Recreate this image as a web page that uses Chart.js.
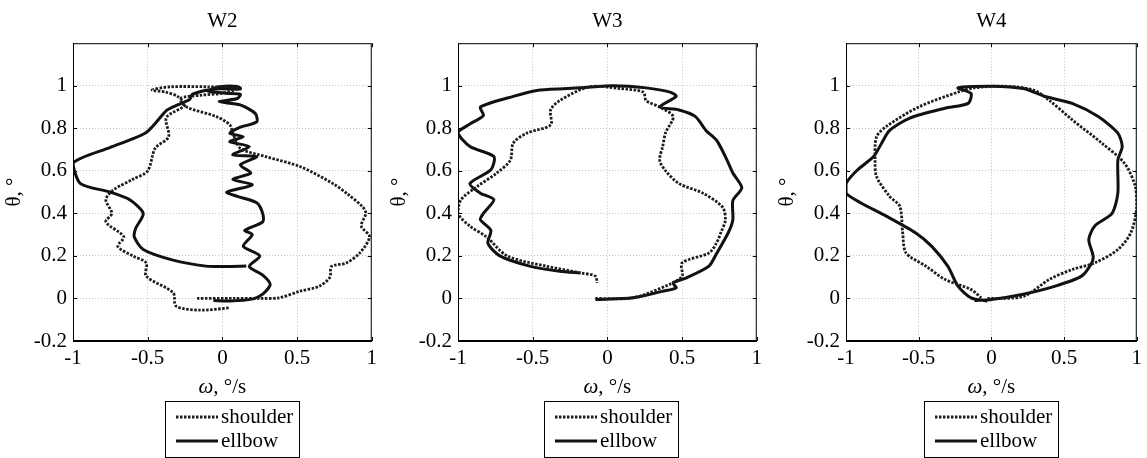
<!DOCTYPE html>
<html>
<head>
<meta charset="utf-8">
<script src="https://cdn.jsdelivr.net/npm/chart.js@4.4.0/dist/chart.umd.min.js"></script>
<style>
  html, body { margin: 0; padding: 0; background: #fff; }
  #wrap { position: relative; width: 1147px; height: 458px; overflow: hidden; }
  .panel { position: absolute; top: 0; height: 458px; }
</style>
</head>
<body>
<div id="wrap">
  <div class="panel" style="left:0px;width:382px"><canvas id="w2" width="382" height="458"></canvas></div>
  <div class="panel" style="left:385px;width:382px"><canvas id="w3" width="382" height="458"></canvas></div>
  <div class="panel" style="left:773px;width:374px"><canvas id="w4" width="374" height="458"></canvas></div>
</div>
<script>
// ---- data (omega, theta), normalised ----
var seriesLabels = ["shoulder", "ellbow"];
var xTicks = [-1, -0.5, 0, 0.5, 1];
var yTicks = [-0.2, 0, 0.2, 0.4, 0.6, 0.8, 1];

var w2Shoulder = [
  [-0.17, 0.0], [0.07, 0.0], [0.25, 0.0], [0.38, 0.003], [0.52, 0.034], [0.65, 0.058],
  [0.72, 0.1], [0.73, 0.15], [0.83, 0.167], [0.92, 0.214], [0.985, 0.29], [0.93, 0.34],
  [0.96, 0.4], [0.94, 0.43], [0.84, 0.49], [0.74, 0.54], [0.52, 0.62], [0.29, 0.667],
  [0.12, 0.706], [0.07, 0.777], [0.05, 0.816], [-0.04, 0.855], [-0.24, 0.9], [-0.28, 0.94],
  [-0.15, 0.955], [0.0, 0.965], [0.12, 0.99], [-0.1, 0.995], [-0.35, 0.995], [-0.47, 0.98],
  [-0.38, 0.97], [-0.3, 0.95], [-0.25, 0.91], [-0.375, 0.85], [-0.36, 0.76], [-0.45, 0.706],
  [-0.5, 0.6], [-0.6, 0.56], [-0.73, 0.51], [-0.78, 0.464], [-0.74, 0.4], [-0.78, 0.36],
  [-0.66, 0.29], [-0.7, 0.245], [-0.6, 0.2], [-0.51, 0.167], [-0.51, 0.105], [-0.33, 0.027],
  [-0.31, -0.036], [-0.15, -0.055], [0.05, -0.044]
];
var w2Elbow = [
  [-0.06, -0.01], [0.05, -0.012], [0.2, -0.003], [0.27, 0.02], [0.32, 0.066], [0.27, 0.11],
  [0.18, 0.15], [0.25, 0.2], [0.14, 0.245], [0.2, 0.3], [0.15, 0.32], [0.27, 0.36],
  [0.27, 0.4], [0.23, 0.45], [0.1, 0.48], [0.03, 0.5], [0.2, 0.534], [0.07, 0.56],
  [0.19, 0.59], [0.12, 0.628], [0.23, 0.667], [0.07, 0.675], [0.18, 0.714], [0.05, 0.737],
  [0.14, 0.76], [0.05, 0.777], [0.12, 0.805], [0.23, 0.83], [0.22, 0.87], [0.12, 0.91],
  [-0.02, 0.925], [0.1, 0.94], [0.12, 0.96], [0.02, 0.965], [-0.1, 0.975], [-0.02, 0.995],
  [0.1, 0.997], [0.12, 0.985], [-0.05, 0.985], [-0.2, 0.96], [-0.22, 0.935], [-0.3, 0.91],
  [-0.37, 0.886], [-0.51, 0.78], [-0.75, 0.71], [-1.0, 0.636], [-0.95, 0.54], [-0.75, 0.5],
  [-0.62, 0.464], [-0.53, 0.4], [-0.58, 0.33], [-0.59, 0.29], [-0.53, 0.23], [-0.33, 0.18],
  [-0.11, 0.152], [0.02, 0.15], [0.16, 0.152]
];

var w3Shoulder = [
  [-0.08, 0.0], [0.17, 0.003], [0.415, 0.066], [0.5, 0.105], [0.5, 0.167], [0.68, 0.214],
  [0.73, 0.26], [0.76, 0.31], [0.79, 0.37], [0.77, 0.43], [0.64, 0.495], [0.48, 0.54],
  [0.39, 0.6], [0.35, 0.65], [0.37, 0.714], [0.39, 0.78], [0.44, 0.855], [0.35, 0.9],
  [0.26, 0.93], [0.24, 0.97], [0.08, 0.987], [-0.12, 0.995], [-0.32, 0.93], [-0.38, 0.886],
  [-0.38, 0.816], [-0.54, 0.777], [-0.63, 0.73], [-0.65, 0.65], [-0.74, 0.59], [-0.87, 0.527],
  [-0.98, 0.464], [-1.0, 0.4], [-0.92, 0.34], [-0.81, 0.29], [-0.67, 0.2], [-0.41, 0.152],
  [-0.18, 0.12], [-0.08, 0.105], [-0.07, 0.073]
];
var w3Elbow = [
  [-0.08, -0.005], [0.17, 0.003], [0.37, 0.034], [0.46, 0.05], [0.44, 0.073], [0.53, 0.097],
  [0.68, 0.152], [0.73, 0.21], [0.81, 0.31], [0.84, 0.37], [0.84, 0.46], [0.9, 0.52],
  [0.84, 0.59], [0.79, 0.667], [0.73, 0.745], [0.66, 0.79], [0.59, 0.855], [0.48, 0.886],
  [0.35, 0.9], [0.46, 0.95], [0.42, 0.97], [0.26, 0.99], [0.04, 1.0], [-0.18, 0.99],
  [-0.45, 0.98], [-0.63, 0.95], [-0.85, 0.9], [-0.83, 0.86], [-0.92, 0.82], [-1.0, 0.78],
  [-0.92, 0.714], [-0.76, 0.667], [-0.78, 0.605], [-0.92, 0.54], [-0.85, 0.495], [-0.76, 0.464],
  [-0.83, 0.4], [-0.85, 0.37], [-0.78, 0.32], [-0.8, 0.26], [-0.72, 0.2], [-0.52, 0.152],
  [-0.32, 0.128], [-0.18, 0.12]
];

var w4Shoulder = [
  [-0.027, 0.0], [0.22, 0.01], [0.4, 0.09], [0.556, 0.136], [0.71, 0.167], [0.87, 0.23],
  [0.96, 0.31], [1.0, 0.43], [0.99, 0.527], [0.915, 0.636], [0.76, 0.73], [0.556, 0.84],
  [0.4, 0.93], [0.29, 0.98], [0.085, 0.998], [-0.117, 0.99], [-0.23, 0.97], [-0.5, 0.9],
  [-0.72, 0.81], [-0.79, 0.76], [-0.8, 0.65], [-0.79, 0.573], [-0.7, 0.48], [-0.63, 0.433],
  [-0.61, 0.308], [-0.587, 0.214], [-0.45, 0.152], [-0.32, 0.09], [-0.14, 0.042], [-0.07, 0.003]
];
var w4Elbow = [
  [-0.117, -0.01], [0.0, -0.005], [0.22, 0.02], [0.44, 0.058], [0.62, 0.105], [0.69, 0.167],
  [0.7, 0.2], [0.67, 0.277], [0.71, 0.34], [0.83, 0.4], [0.87, 0.495], [0.87, 0.65],
  [0.9, 0.714], [0.87, 0.777], [0.735, 0.855], [0.556, 0.917], [0.377, 0.948], [0.22, 0.987],
  [0.0, 0.998], [-0.23, 0.99], [-0.14, 0.964], [-0.16, 0.917], [-0.32, 0.894], [-0.565, 0.847],
  [-0.7, 0.79], [-0.755, 0.73], [-0.81, 0.667], [-0.92, 0.605], [-1.0, 0.54], [-1.0, 0.495],
  [-0.9, 0.45], [-0.72, 0.386], [-0.52, 0.308], [-0.41, 0.245], [-0.3, 0.152], [-0.23, 0.058],
  [-0.14, 0.003], [-0.027, -0.012]
];

var SERIF = "'Liberation Serif', 'Times New Roman', serif";
var FS = 21;
Chart.defaults.font.family = SERIF;
Chart.defaults.color = "#000";

function fmt(v) {
  return String(Number(Number(v).toFixed(1)));
}

// box round the plot, inward ticks, x title with italic omega, boxed legend
var matlabLook = {
  id: "matlabLook",
  afterDraw: function (chart, args, opts) {
    var ctx = chart.ctx;
    var a = chart.chartArea;
    var sx = chart.scales.x, sy = chart.scales.y;
    ctx.save();
    ctx.strokeStyle = "#000";
    ctx.lineWidth = 1;
    ctx.strokeRect(a.left + 0.5, a.top + 0.5, a.right - a.left - 1, a.bottom - a.top - 1);
    ctx.beginPath();
    xTicks.forEach(function (t) {
      var px = Math.round(sx.getPixelForValue(t)) + 0.5;
      ctx.moveTo(px, a.bottom); ctx.lineTo(px, a.bottom - 4);
      ctx.moveTo(px, a.top); ctx.lineTo(px, a.top + 4);
    });
    yTicks.forEach(function (t) {
      var py = Math.round(sy.getPixelForValue(t)) + 0.5;
      ctx.moveTo(a.left, py); ctx.lineTo(a.left + 4, py);
      ctx.moveTo(a.right, py); ctx.lineTo(a.right - 4, py);
    });
    ctx.stroke();

    // x axis title
    var cx = (a.left + a.right) / 2;
    ctx.textBaseline = "middle";
    ctx.font = "italic " + FS + "px " + SERIF;
    var w1 = ctx.measureText("\u03c9").width;
    ctx.font = FS + "px " + SERIF;
    var w2 = ctx.measureText(", \u00b0/s").width;
    var x0 = cx - (w1 + w2) / 2;
    ctx.fillStyle = "#000";
    ctx.textAlign = "left";
    ctx.font = "italic " + FS + "px " + SERIF;
    ctx.fillText("\u03c9", x0, 387);
    ctx.font = FS + "px " + SERIF;
    ctx.fillText(", \u00b0/s", x0 + w1, 387);

    // legend
    var bl = opts.boxLeft, bt = 401, bw = 134, bh = 56;
    ctx.strokeRect(bl + 0.5, bt + 0.5, bw, bh);
    var rows = [417, 441];
    chart.data.datasets.forEach(function (ds, i) {
      ctx.beginPath();
      ctx.setLineDash(ds.borderDash || []);
      ctx.lineWidth = ds.borderWidth;
      ctx.strokeStyle = ds.borderColor;
      ctx.moveTo(bl + 11, rows[i]);
      ctx.lineTo(bl + 53, rows[i]);
      ctx.stroke();
      ctx.setLineDash([]);
      ctx.fillText(ds.label, bl + 56, rows[i]);
    });
    ctx.restore();
  }
};

function makePanel(id, title, shoulder, elbow, padRight, boxLeft) {
  var ctx = document.getElementById(id).getContext("2d");
  return new Chart(ctx, {
    type: "scatter",
    data: {
      datasets: [
        {
          label: seriesLabels[0],
          data: shoulder.map(function (p) { return { x: p[0], y: p[1] }; }),
          showLine: true,
          pointRadius: 0,
          borderColor: "#1c1c1c",
          borderWidth: 2.8,
          borderDash: [2.5, 1.5],
          tension: 0.3,
          fill: false
        },
        {
          label: seriesLabels[1],
          data: elbow.map(function (p) { return { x: p[0], y: p[1] }; }),
          showLine: true,
          pointRadius: 0,
          borderColor: "#111",
          borderWidth: 3,
          tension: 0.25,
          fill: false
        }
      ]
    },
    options: {
      responsive: false,
      animation: false,
      layout: { padding: { top: 0, right: padRight, bottom: 0, left: 0 } },
      plugins: {
        legend: { display: false },
        tooltip: { enabled: false },
        title: {
          display: true,
          text: title,
          fullSize: false,
          color: "#000",
          font: { size: FS, weight: "normal", family: SERIF },
          padding: { top: 9, bottom: 9 }
        },
        matlabLook: { boxLeft: boxLeft }
      },
      scales: {
        x: {
          type: "linear",
          min: -1,
          max: 1,
          afterFit: function (s) { s.height = 117; },
          afterBuildTicks: function (s) { s.ticks = xTicks.map(function (v) { return { value: v }; }); },
          ticks: { padding: 5, font: { size: FS }, callback: fmt, maxRotation: 0 },
          grid: { color: "#c4c4c4", lineWidth: 1, drawTicks: false },
          border: { display: true, color: "#000", width: 1, dash: [1, 2] },
          title: { display: false }
        },
        y: {
          type: "linear",
          min: -0.2,
          max: 1.2,
          afterFit: function (s) { s.width = 73; },
          afterBuildTicks: function (s) { s.ticks = yTicks.map(function (v) { return { value: v }; }); },
          ticks: { padding: 6, font: { size: FS }, callback: fmt },
          grid: { color: "#c4c4c4", lineWidth: 1, drawTicks: false },
          border: { display: true, color: "#000", width: 1, dash: [1, 2] },
          title: {
            display: true,
            text: "\u03b8, \u00b0",
            font: { size: FS, family: SERIF },
            color: "#000",
            padding: { top: 2, bottom: 0 }
          }
        }
      }
    },
    plugins: [matlabLook]
  });
}

makePanel("w2", "W2", w2Shoulder, w2Elbow, 10, 165);
makePanel("w3", "W3", w3Shoulder, w3Elbow, 9, 159);
makePanel("w4", "W4", w4Shoulder, w4Elbow, 4, 151);
</script>
</body>
</html>
